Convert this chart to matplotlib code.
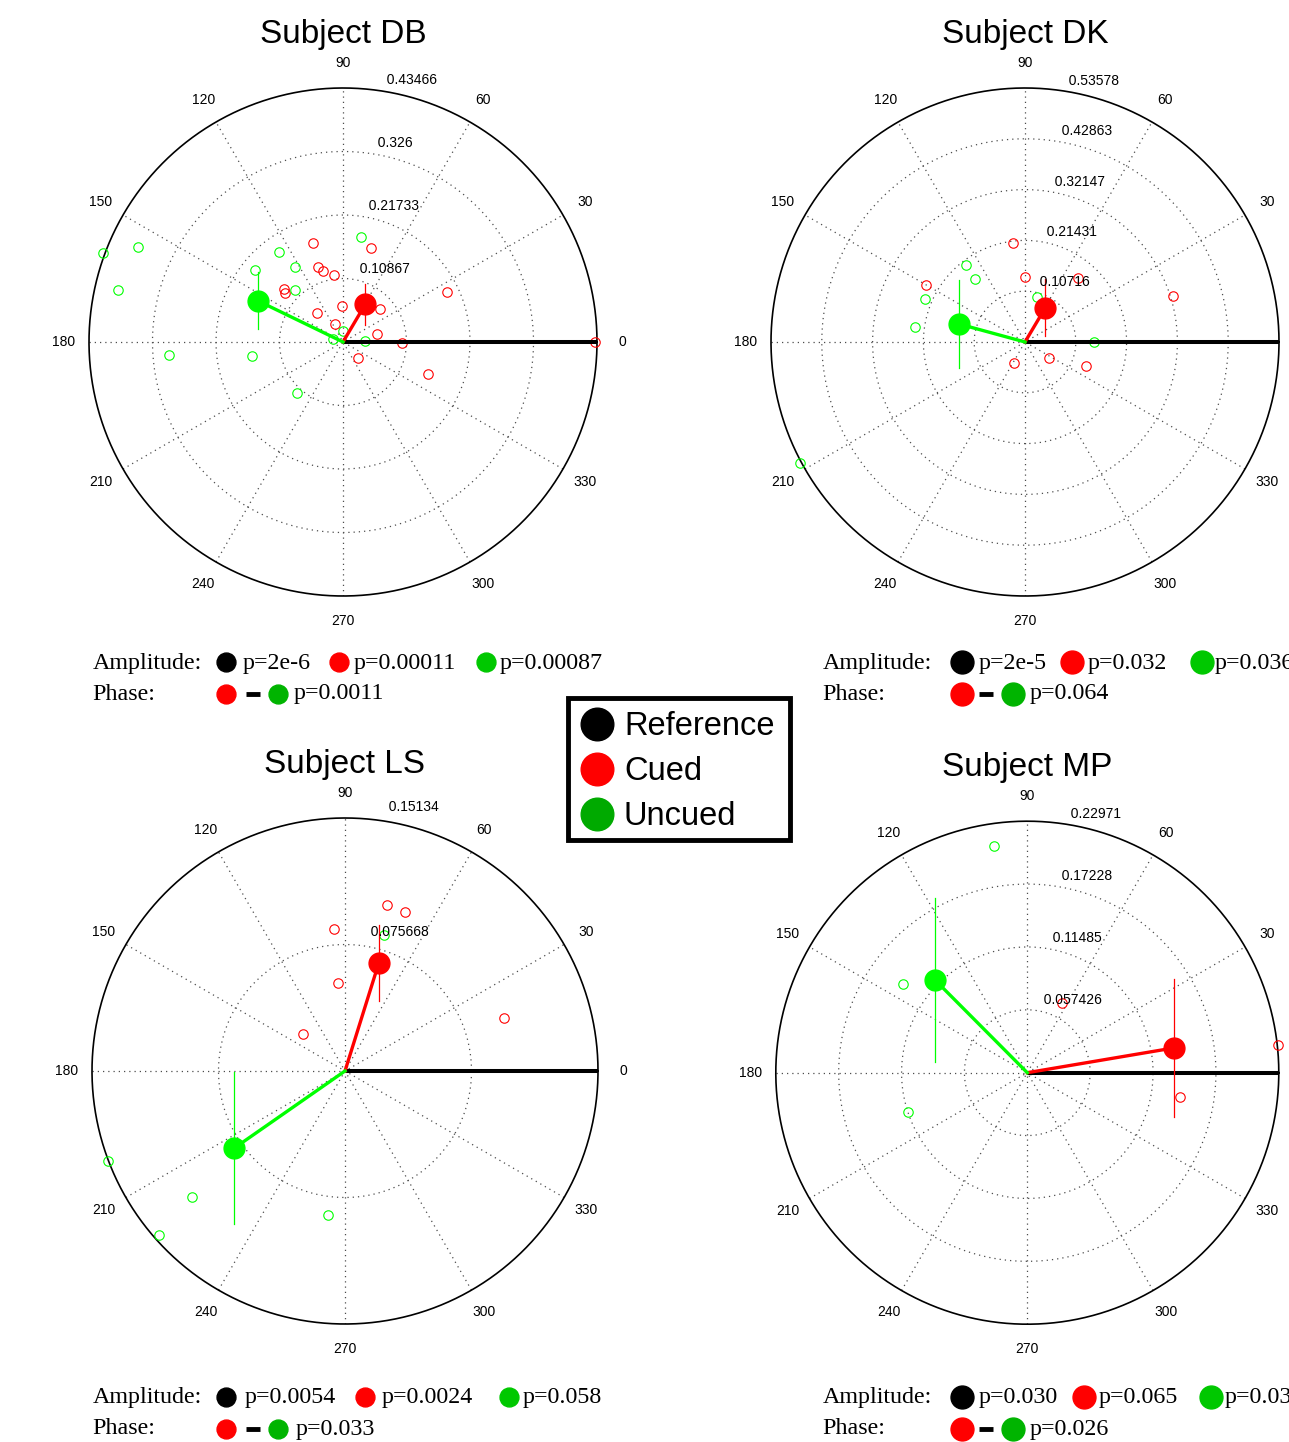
import numpy as np
import matplotlib
matplotlib.use('Agg')
import matplotlib.pyplot as plt
from matplotlib.patches import Rectangle

SANS = 'Liberation Sans'
SERIF = 'Liberation Serif'
RED = '#ff0000'
GREEN = '#00ff00'

# ---- data: complex coefficients (real, imag) per trial, means with error ----
SUBJECTS = ['DB', 'DK', 'LS', 'MP']

RING_LABELS = {
    'DB': ['0.10867', '0.21733', '0.326', '0.43466'],
    'DK': ['0.10716', '0.21431', '0.32147', '0.42863', '0.53578'],
    'LS': ['0.075668', '0.15134'],
    'MP': ['0.057426', '0.11485', '0.17228', '0.22971'],
}

DB_CUED_RE = [-0.0518, 0.0474, -0.0428, -0.0342, -0.0149, -0.1010, -0.0998, -0.0022, -0.0450,
              0.0638, -0.0142, 0.0577, 0.1004, 0.0265, 0.1460, 0.1785, 0.4317]
DB_CUED_IM = [0.1699, 0.1603, 0.1278, 0.1220, 0.1152, 0.0902, 0.0838, 0.0621, 0.0496,
              0.0565, 0.0308, 0.0142, -0.0012, -0.0277, -0.0548, 0.0850, 0.0]
DB_UNCUED_RE = [-0.4112, -0.3513, -0.3850, -0.1095, -0.0826, -0.1511, -0.0821, 0.0313,
                0.0005, -0.0166, 0.0376, -0.2983, -0.1557, -0.0792]
DB_UNCUED_IM = [0.1528, 0.1631, 0.0885, 0.1540, 0.1283, 0.1227, 0.0895, 0.1792,
                0.0188, 0.0056, 0.0022, -0.0222, -0.0234, -0.0868]

DK_CUED_RE = [-0.0259, 0.0, 0.1111, -0.2088, 0.3129, -0.0232, 0.0513, 0.1287]
DK_CUED_IM = [0.2095, 0.1364, 0.1343, 0.1209, 0.0977, -0.0450, -0.0345, -0.0499]
DK_UNCUED_RE = [-0.1244, -0.1062, -0.2116, -0.2327, 0.0246, 0.1462, -0.4739]
DK_UNCUED_IM = [0.1631, 0.1322, 0.0914, 0.0323, 0.0942, 0.0, -0.2559]

LS_CUED_RE = [0.0249, 0.0357, -0.0064, -0.0040, -0.0253, 0.0953]
LS_CUED_IM = [0.0995, 0.0954, 0.0849, 0.0526, 0.0220, 0.0317]
LS_UNCUED_RE = [0.0235, -0.1420, -0.0913, -0.1114, -0.0103]
LS_UNCUED_IM = [0.0814, -0.0538, -0.0754, -0.0979, -0.0863]

MP_CUED_RE = [0.0317, 0.2287, 0.1397]
MP_CUED_IM = [0.0634, 0.0250, -0.0219]
MP_UNCUED_RE = [-0.0304, -0.1133, -0.1092]
MP_UNCUED_IM = [0.2073, 0.0810, -0.0356]

# mean (re, im, error half-length)
CUED_MEAN = {'DB': (0.0382, 0.0647, 0.0354), 'DK': (0.0429, 0.0724, 0.0597),
             'LS': (0.0202, 0.0646, 0.0226), 'MP': (0.1337, 0.0226, 0.0629)}
UNCUED_MEAN = {'DB': (-0.1460, 0.0707, 0.0489), 'DK': (-0.1392, 0.0380, 0.0932),
               'LS': (-0.0662, -0.0461, 0.0457), 'MP': (-0.0843, 0.0847, 0.0752)}

AMP_P = {'DB': ['p=2e-6', 'p=0.00011', 'p=0.00087'],
         'DK': ['p=2e-5', 'p=0.032', 'p=0.036'],
         'LS': ['p=0.0054', 'p=0.0024', 'p=0.058'],
         'MP': ['p=0.030', 'p=0.065', 'p=0.035']}
PHASE_P = {'DB': 'p=0.0011', 'DK': 'p=0.064', 'LS': 'p=0.033', 'MP': 'p=0.026'}

POINTS = {
    'DB': (DB_CUED_RE, DB_CUED_IM, DB_UNCUED_RE, DB_UNCUED_IM),
    'DK': (DK_CUED_RE, DK_CUED_IM, DK_UNCUED_RE, DK_UNCUED_IM),
    'LS': (LS_CUED_RE, LS_CUED_IM, LS_UNCUED_RE, LS_UNCUED_IM),
    'MP': (MP_CUED_RE, MP_CUED_IM, MP_UNCUED_RE, MP_UNCUED_IM),
}

# ---- layout (pixels) ----
W, H = 1289, 1442
# circle center and radius per panel
PANEL = {'DB': (343, 342, 254), 'DK': (1025, 342, 254),
         'LS': (345, 1071, 253), 'MP': (1027.3, 1072.7, 251.5)}

fig = plt.figure(figsize=(W / 100, H / 100), dpi=100)


def polar_panel(name):
    cx, cy, R = PANEL[name]
    ax = fig.add_axes([(cx - R) / W, 1 - (cy + R) / H, 2 * R / W, 2 * R / H])
    rings = [float(t) for t in RING_LABELS[name]]
    rmax = rings[-1]
    rinc = rmax / len(rings)
    ax.set_xlim(-rmax, rmax)
    ax.set_ylim(-rmax, rmax)
    ax.set_aspect('equal')
    ax.axis('off')

    th = np.linspace(0, 2 * np.pi, 400)
    dot = dict(color='0.3', lw=0.9, ls=(0, (1, 3.2)), zorder=1)
    for r in rings[:-1]:
        ax.plot(r * np.cos(th), r * np.sin(th), **dot)
    for a in range(0, 180, 30):
        t = np.deg2rad(a)
        ax.plot([-rmax * np.cos(t), rmax * np.cos(t)], [-rmax * np.sin(t), rmax * np.sin(t)], **dot)
    ax.plot(rmax * np.cos(th), rmax * np.sin(th), color='k', lw=1.2, zorder=2, clip_on=False)

    # angle labels (the ones falling past the figure edge are not shown in the original)
    for a in range(0, 360, 30):
        t = np.deg2rad(a)
        if cx + 1.1 * R * np.cos(t) > W - 5:
            continue
        ax.text(1.1 * rmax * np.cos(t), 1.1 * rmax * np.sin(t), str(a), ha='center', va='center',
                fontsize=10, family=SANS, clip_on=False)
    # ring labels at 82 degrees
    c82, s82 = np.cos(np.deg2rad(82)), np.sin(np.deg2rad(82))
    for r, lab in zip(rings, RING_LABELS[name]):
        ax.text((r + rinc / 20) * c82, (r + rinc / 20) * s82, '  ' + lab, ha='left', va='bottom',
                fontsize=10, family=SANS, zorder=6, clip_on=False)

    cre, cim, ure, uim = POINTS[name]
    ax.plot(cre, cim, 'o', mfc='none', mec=RED, ms=6.8, mew=0.8, zorder=3, clip_on=False)
    ax.plot(ure, uim, 'o', mfc='none', mec=GREEN, ms=6.8, mew=0.8, zorder=3, clip_on=False)

    ax.plot([0, rmax], [0, 0], color='k', lw=2.9, zorder=4, solid_capstyle='butt')
    for (mx, my, e), col in ((CUED_MEAN[name], RED), (UNCUED_MEAN[name], GREEN)):
        ax.plot([0, mx], [0, my], color=col, lw=2.4, zorder=4)
        ax.plot([mx, mx], [my - e, my + e], color=col, lw=0.9, zorder=4)
        ax.plot([mx], [my], 'o', color=col, ms=15, zorder=5)

    ax.text(0.5, 1 + 54 / (2 * R), 'Subject ' + name, transform=ax.transAxes, ha='center',
            va='center', fontsize=24, family=SANS)


for s in SUBJECTS:
    polar_panel(s)

# ---- overlay for p-value lines and legend ----
ov = fig.add_axes([0, 0, 1, 1], zorder=10)
ov.set_xlim(0, W)
ov.set_ylim(H, 0)
ov.axis('off')

ANNOT = {
    'DB': dict(x0=92.5, yb=668.5, amp_mk=[226.3, 338.9, 485.7], amp_tx=[242.5, 353.2, 499.6],
               ph_mk=[226.4, 252.7, 277.7], ph_tx=293.2, ms=13.6),
    'DK': dict(x0=822.7, yb=668.5, amp_mk=[961.7, 1071.7, 1201.7], amp_tx=[978.3, 1087.7, 1214.3],
               ph_mk=[961.7, 985.5, 1013], ph_tx=1029.3, ms=16.5),
    'LS': dict(x0=92.5, yb=1403.5, amp_mk=[226.4, 364.8, 508.6], amp_tx=[245, 381.8, 522.9],
               ph_mk=[226.4, 252.7, 277.7], ph_tx=296, ms=13.6),
    'MP': dict(x0=822.7, yb=1403.5, amp_mk=[961.7, 1083.7, 1210.7], amp_tx=[978.3, 1098.3, 1225],
               ph_mk=[961.7, 985.5, 1013], ph_tx=1029.3, ms=16.5),
}
MK_COLORS = ['k', RED, '#00c800']
FS = 17.3

for s in SUBJECTS:
    L = ANNOT[s]
    y1, y2 = L['yb'], L['yb'] + 31
    ov.text(L['x0'], y1, 'Amplitude:', family=SERIF, fontsize=FS, va='baseline')
    ov.text(L['x0'], y2, 'Phase:', family=SERIF, fontsize=FS, va='baseline')
    for mx, tx, col, p in zip(L['amp_mk'], L['amp_tx'], MK_COLORS, AMP_P[s]):
        ov.plot([mx], [y1 - 7], 'o', color=col, ms=L['ms'])
        ov.text(tx, y1, p, family=SERIF, fontsize=FS, va='baseline')
    ov.plot([L['ph_mk'][0]], [y2 - 5.5], 'o', color=RED, ms=L['ms'])
    ov.plot([L['ph_mk'][1] - 7, L['ph_mk'][1] + 7], [y2 - 5.5, y2 - 5.5], color='k', lw=3.5,
            solid_capstyle='butt')
    ov.plot([L['ph_mk'][2]], [y2 - 5.5], 'o', color='#00b400', ms=L['ms'])
    ov.text(L['ph_tx'], y2, PHASE_P[s], family=SERIF, fontsize=FS, va='baseline')

# legend box
ov.add_patch(Rectangle((568, 698), 222, 142, facecolor='white', edgecolor='k', lw=3.5))
LEG = [('Reference', 'k'), ('Cued', RED), ('Uncued', '#00aa00')]
for i, (lab, col) in enumerate(LEG):
    y = 724 + 45 * i
    ov.plot([597.3], [y], 'o', color=col, ms=23.5)
    ov.text(624, y + 11, lab, family=SANS, fontsize=23.5, va='baseline')

fig.savefig('out.png', dpi=100)
